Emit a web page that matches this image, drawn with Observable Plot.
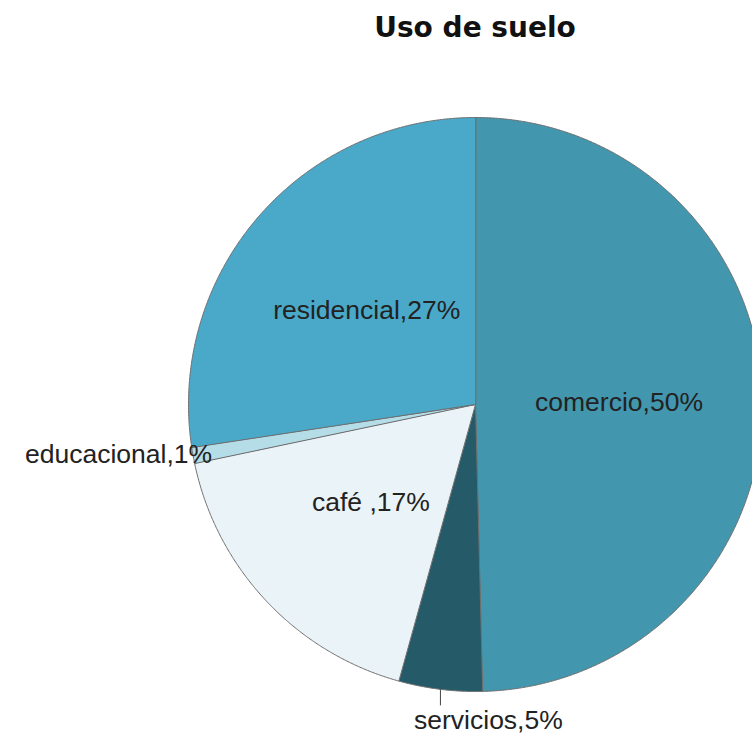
<!DOCTYPE html>
<html>
<head>
<meta charset="utf-8">
<script src="https://cdn.jsdelivr.net/npm/d3@7"></script>
<script src="https://cdn.jsdelivr.net/npm/@observablehq/plot@0.6"></script>
<style>
  html, body { margin: 0; padding: 0; background: #fff; }
  #title { position: relative; width: 752px; height: 55px; }
  #title span { position: absolute; left: 475px; top: 27px; transform: translate(-50%, -50%);
    font-family: "DejaVu Sans", Verdana, sans-serif; font-weight: bold; font-size: 28px; color: #111; white-space: nowrap; }
  #chart svg { display: block; }
</style>
</head>
<body>
<div id="title"><span>Uso de suelo</span></div>
<div id="chart"></div>
<script>
// Data (clockwise from 12 o'clock)
const categories = ["comercio", "servicios", "café ", "educacional", "residencial"];
const values = [49.6, 4.7, 17.4, 0.9, 27.4];
const colors = ["#4297ae", "#255a69", "#eaf3f7", "#b5dde8", "#4aa9c9"];
const outside = ["servicios", "educacional"];

const W = 752, H = 680;
const R = 287;            // pixel radius
const cx = 475, cy = 349; // center within svg (px)
const FS = 26.5;

const total = d3.sum(values);
const pie = d3.pie().sort(null).value(d => d)(values);

// polygon points for each slice in unit-radius coordinates (y up)
const pts = [];
pie.forEach((p, i) => {
  const cat = categories[i];
  pts.push({cat, x: 0, y: 0});
  const n = Math.max(2, Math.ceil((p.endAngle - p.startAngle) / 0.005));
  for (let k = 0; k <= n; k++) {
    const a = p.startAngle + (p.endAngle - p.startAngle) * k / n;
    pts.push({cat, x: Math.sin(a), y: Math.cos(a)});
  }
});

const labels = pie.map((p, i) => {
  const mid = (p.startAngle + p.endAngle) / 2;
  const pct = Math.round(values[i] / total * 100);
  const text = `${categories[i]},${pct}%`;
  const isOut = outside.includes(categories[i]);
  return {cat: categories[i], text, mid, isOut,
    x: 0.5 * Math.sin(mid), y: 0.5 * Math.cos(mid)};
});

const inner = labels.filter(d => !d.isOut);
const serv = labels.find(d => d.cat === "servicios");
const edu = labels.find(d => d.cat === "educacional");

const servEdge = {x: Math.sin(serv.mid), y: Math.cos(serv.mid)};
const servLead = [{x1: servEdge.x, y1: servEdge.y, x2: servEdge.x, y2: servEdge.y - 16 / R}];
const servText = [{text: serv.text, x: servEdge.x + 48 / R, y: servEdge.y - 31 / R}];
const eduText = [{text: edu.text, x: Math.sin(edu.mid) + 19 / R, y: Math.cos(edu.mid) + 1 / R}];

const chart = Plot.plot({
  width: W, height: H,
  margin: 0,
  x: {domain: [-cx / R, (W - cx) / R], axis: null},
  y: {domain: [-(H - cy) / R, cy / R], axis: null},
  color: {domain: categories, range: colors},
  style: {fontFamily: "'Liberation Sans', Arial, sans-serif", background: "#fff"},
  marks: [
    Plot.line(pts, {x: "x", y: "y", z: "cat", fill: "cat", stroke: "#6e6e6e", strokeWidth: 1, curve: "linear-closed"}),
    Plot.link(servLead, {x1: "x1", y1: "y1", x2: "x2", y2: "y2", stroke: "#444", strokeWidth: 1}),
    Plot.text(inner, {x: "x", y: "y", text: "text", fontSize: FS, fill: "#222"}),
    Plot.text(servText, {x: "x", y: "y", text: "text", fontSize: FS, fill: "#222"}),
    Plot.text(eduText, {x: "x", y: "y", text: "text", fontSize: FS, fill: "#222", textAnchor: "end"})
  ]
});
document.getElementById("chart").appendChild(chart);
</script>
</body>
</html>
